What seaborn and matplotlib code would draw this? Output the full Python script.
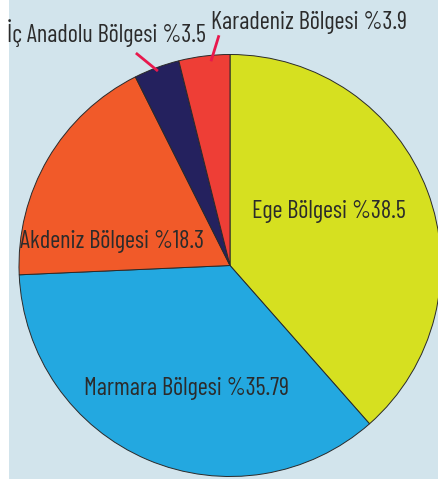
import numpy as np
import matplotlib
matplotlib.use("Agg")
import matplotlib.pyplot as plt
import matplotlib.patches as mpatches
from matplotlib.font_manager import FontProperties
from matplotlib.textpath import TextPath
import seaborn as sns

regions = ["Ege Bölgesi", "Marmara Bölgesi", "Akdeniz Bölgesi", "İç Anadolu Bölgesi", "Karadeniz Bölgesi"]
shares = [38.5, 35.79, 18.3, 3.5, 3.9]
share_labels = ["%38.5", "%35.79", "%18.3", "%3.5", "%3.9"]
colors = ["#d6e020", "#23a8e0", "#f15a29", "#24215e", "#ee3e36"]

sns.set_theme(style="white")
family = "Barlow Condensed"
plt.rcParams['font.family'] = [family, 'DejaVu Sans']

# font size chosen so the widest label spans about as much as in the reference
fp = FontProperties(family=family, weight="normal")
wid100 = TextPath((0, 0), "Karadeniz Bölgesi %3.9", size=100, prop=fp).get_extents().width
fsize = 192.0 * 100 / wid100 * 72 / 100.0

W, H = 438, 479
fig = plt.figure(figsize=(W / 100, H / 100), dpi=100)
fig.patch.set_facecolor("white")
ax = fig.add_axes([0, 0, 1, 1])
ax.set_facecolor("none")

cx, cy, R = 230, H - 265.5, 211
wedges, _ = ax.pie(shares, colors=colors, startangle=90, counterclock=False,
                   center=(cx, cy), radius=R, frame=True,
                   wedgeprops=dict(edgecolor="#2a2a2a", linewidth=0.7))
ax.add_patch(mpatches.Rectangle((9, 0), W - 9, H, facecolor="#d2e4ec", edgecolor="none", zorder=-5))
ax.set_xlim(0, W)
ax.set_ylim(0, H)
ax.set_aspect("auto")
ax.axis("off")

# (left x, right x, baseline y from top) in pixels
label_pos = {
    0: (256, 402, 218),
    1: (87, 287, 395),
    2: (22, 202, 248),
    3: (12, 201, 42),
    4: (215, 403, 29),
}
for i, (xl, xr, yb) in label_pos.items():
    ax.text((xl + xr) / 2, H - yb, f"{regions[i]} {share_labels[i]}", ha="center", va="baseline",
            fontsize=fsize, color="#2b2b2b", fontweight="normal")

leader = {3: (0.0, 0.983, -22, 18), 4: (-1.7, 0.972, 8, 26)}
for i, (dang, rf, dx, dy) in leader.items():
    w = wedges[i]
    ang = np.deg2rad((w.theta1 + w.theta2) / 2 + dang)
    x0 = cx + rf * R * np.cos(ang)
    y0 = cy + rf * R * np.sin(ang)
    ax.plot([x0, x0 + dx], [y0, y0 + dy], color="#e8184d", lw=2.0, solid_capstyle="butt")

fig.savefig("out.png", dpi=100)
